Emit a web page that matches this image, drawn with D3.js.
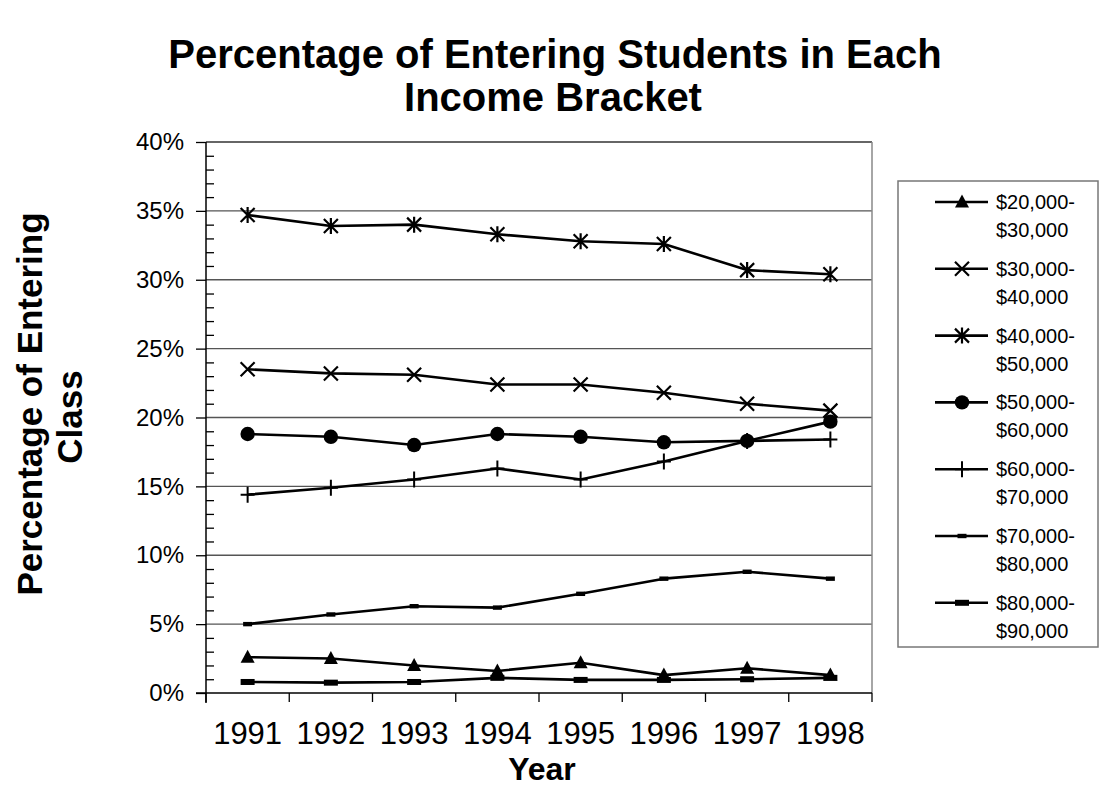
<!DOCTYPE html>
<html><head><meta charset="utf-8">
<script src="https://cdn.jsdelivr.net/npm/d3@7"></script>
<style>body{margin:0;background:#fff}svg{display:block}text{font-family:Arial,"Liberation Sans",sans-serif;fill:#000}</style>
</head><body>
<svg id="c" width="1103" height="788"></svg>
<script>
const years = ["1991","1992","1993","1994","1995","1996","1997","1998"];
const seriesNames = [["$20,000-","$30,000"],["$30,000-","$40,000"],["$40,000-","$50,000"],["$50,000-","$60,000"],["$60,000-","$70,000"],["$70,000-","$80,000"],["$80,000-","$90,000"]];
const inc20_30 = [2.6, 2.5, 2.0, 1.6, 2.2, 1.3, 1.8, 1.3];
const inc30_40 = [23.5, 23.2, 23.1, 22.4, 22.4, 21.8, 21.0, 20.5];
const inc40_50 = [34.7, 33.9, 34.0, 33.3, 32.8, 32.6, 30.7, 30.4];
const inc50_60 = [18.8, 18.6, 18.0, 18.8, 18.6, 18.2, 18.3, 19.7];
const inc60_70 = [14.4, 14.9, 15.5, 16.3, 15.5, 16.8, 18.3, 18.4];
const inc70_80 = [5.0, 5.7, 6.3, 6.2, 7.2, 8.3, 8.8, 8.3];
const inc80_90 = [0.8, 0.75, 0.8, 1.1, 0.95, 0.95, 1.0, 1.1];
const seriesValues = [inc20_30, inc30_40, inc40_50, inc50_60, inc60_70, inc70_80, inc80_90];
const markerTypes = ["triangle","times","asterisk","circle","plus","dash","thickdash"];
const yMajor = [0,5,10,15,20,25,30,35,40];
const yMinor = d3.range(0,41).filter(v=>v%5!==0);

const svg = d3.select("#c");
const L=206, R=872, T=142, B=693;
const x = d3.scaleBand().domain(years).range([L,R]);
const y = d3.scaleLinear().domain([0,40]).range([B,T]);

// gridlines
svg.append("g").selectAll("line").data([5,10,15,20,25,30,35]).join("line")
  .attr("x1",L).attr("x2",R).attr("y1",d=>y(d)).attr("y2",d=>y(d))
  .attr("stroke","#555").attr("stroke-width",1.3);
// top & right border
svg.append("line").attr("x1",L).attr("x2",R).attr("y1",y(40)).attr("y2",y(40)).attr("stroke","#333").attr("stroke-width",1.5);
svg.append("line").attr("x1",R).attr("x2",R).attr("y1",T).attr("y2",B).attr("stroke","#888").attr("stroke-width",1.5);

// y axis major
const yAx = svg.append("g").attr("transform",`translate(${L},0)`)
  .call(d3.axisLeft(y).tickValues(yMajor).tickSize(10).tickPadding(12).tickFormat(d=>d+"%"));
yAx.select(".domain").attr("stroke","#000").attr("stroke-width",1.5).attr("d",`M0,${T}V${B+10}`);
yAx.selectAll(".tick line").attr("stroke","#000").attr("stroke-width",1.3);
yAx.selectAll("text").style("font-size","24px").attr("font-family","Arial, 'Liberation Sans', sans-serif");
// y axis minor
const yMin = svg.append("g").attr("transform",`translate(${L},0)`)
  .call(d3.axisRight(y).tickValues(yMinor).tickSize(8).tickFormat(""));
yMin.select(".domain").remove();
yMin.selectAll(".tick line").attr("stroke","#000").attr("stroke-width",1.3);

// x axis
const xAx = svg.append("g").attr("transform",`translate(0,${B})`)
  .call(d3.axisBottom(x).tickSize(0).tickPadding(29));
xAx.select(".domain").attr("d",`M${L-10},0H${R}`).attr("stroke","#000").attr("stroke-width",1.5);
xAx.selectAll("text").style("font-size","31px").attr("font-family","Arial, 'Liberation Sans', sans-serif");
const bounds = years.map(d=>x(d)).concat([x.range()[1]]);
svg.append("g").selectAll("line").data(bounds).join("line")
  .attr("x1",d=>d).attr("x2",d=>d).attr("y1",B).attr("y2",B+9)
  .attr("stroke","#000").attr("stroke-width",1.3);

// marker drawing
function drawMarker(g, type){
  const s = "#000";
  switch(type){
    case "triangle": g.append("path").attr("d","M0,-7.5L7,5.5L-7,5.5Z").attr("fill",s); break;
    case "times": g.append("path").attr("d","M-7,-7L7,7M-7,7L7,-7").attr("stroke",s).attr("stroke-width",2.2).attr("fill","none"); break;
    case "asterisk": g.append("path").attr("d","M-7,-7L7,7M-7,7L7,-7M0,-8V8").attr("stroke",s).attr("stroke-width",2.2).attr("fill","none"); break;
    case "circle": g.append("circle").attr("r",7.2).attr("fill",s); break;
    case "plus": g.append("path").attr("d","M0,-8V8M-7,0H7").attr("stroke",s).attr("stroke-width",2).attr("fill","none"); break;
    case "dash": g.append("rect").attr("x",-4.5).attr("y",-2.2).attr("width",9).attr("height",4.4).attr("fill",s); break;
    case "thickdash": g.append("rect").attr("x",-7).attr("y",-3).attr("width",14).attr("height",6).attr("fill",s); break;
  }
}

const line = d3.line().x((d,i)=>x(years[i])+x.bandwidth()/2).y(d=>y(d));
seriesValues.forEach((vals,si)=>{
  const g = svg.append("g");
  g.append("path").datum(vals).attr("d",line).attr("fill","none").attr("stroke","#000").attr("stroke-width",2.6).attr("stroke-linejoin","round");
  g.selectAll("g.m").data(vals).join("g").attr("class","m")
    .attr("transform",(d,i)=>`translate(${x(years[i])+x.bandwidth()/2},${y(d)})`)
    .each(function(){ drawMarker(d3.select(this), markerTypes[si]); });
});

// legend
const lg = svg.append("g");
lg.append("rect").attr("x",898).attr("y",181).attr("width",200).attr("height",466).attr("fill","#fff").attr("stroke","#777").attr("stroke-width",1.5);
seriesNames.forEach((nm,i)=>{
  const cy = 202 + i*66.8;
  const e = lg.append("g");
  e.append("line").attr("x1",935).attr("x2",988).attr("y1",cy).attr("y2",cy).attr("stroke","#000").attr("stroke-width",2.6);
  drawMarker(e.append("g").attr("transform",`translate(962,${cy})`), markerTypes[i]);
  e.append("text").attr("x",996).attr("y",cy+7).style("font-size","20px").text(nm[0]);
  e.append("text").attr("x",996).attr("y",cy+35).style("font-size","20px").text(nm[1]);
});

// titles
svg.append("text").attr("x",555).attr("y",68).attr("text-anchor","middle").style("font-size","40px").style("font-weight","bold").text("Percentage of Entering Students in Each");
svg.append("text").attr("x",553).attr("y",111).attr("text-anchor","middle").style("font-size","40px").style("font-weight","bold").text("Income Bracket");
svg.append("text").attr("x",542).attr("y",780).attr("text-anchor","middle").style("font-size","32px").style("font-weight","bold").text("Year");
svg.append("text").attr("transform","translate(42,404) rotate(-90)").attr("text-anchor","middle").style("font-size","35px").style("font-weight","bold").text("Percentage of Entering");
svg.append("text").attr("transform","translate(82,417) rotate(-90)").attr("text-anchor","middle").style("font-size","35px").style("font-weight","bold").text("Class");
</script>
</body></html>
